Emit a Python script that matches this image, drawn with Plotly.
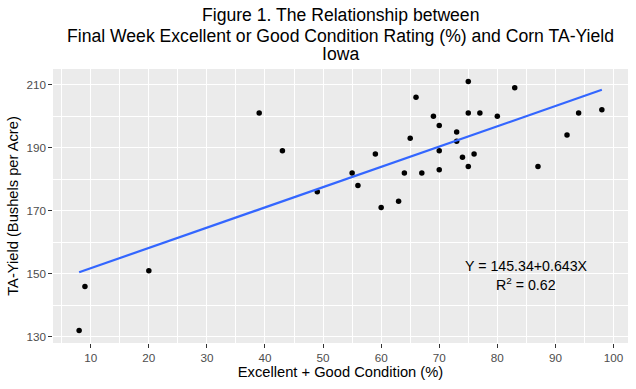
import plotly.graph_objects as go

# Data
condition_pct = [8, 9, 20, 39, 43, 49, 55, 56, 59, 60, 63, 64, 65, 66, 67, 69,
                 70, 70, 70, 73, 73, 74, 75, 75, 75, 76, 77, 80, 83, 87, 92, 94, 98]
ta_yield = [132, 146, 151, 201, 189, 176, 182, 178, 188, 171, 173, 182, 193, 206, 182, 200,
            197, 189, 183, 195, 192, 187, 211, 201, 184, 188, 201, 200, 209, 184, 194, 201, 202]

fit_intercept = 145.34
fit_slope = 0.643
r_squared = 0.62

title_lines = [
    "Figure 1. The Relationship between",
    "Final Week Excellent or Good Condition Rating (%) and Corn TA-Yield",
    "Iowa",
]

x_ticks = [10, 20, 30, 40, 50, 60, 70, 80, 90, 100]
y_ticks = [130, 150, 170, 190, 210]

FONT = "Liberation Sans, Arial, sans-serif"

fit_x = [min(condition_pct), max(condition_pct)]
fit_y = [fit_intercept + fit_slope * v for v in fit_x]

fig = go.Figure()
fig.add_trace(go.Scatter(
    x=condition_pct, y=ta_yield, mode="markers",
    marker=dict(color="black", size=5.5, line=dict(width=0)),
    showlegend=False, hoverinfo="x+y"))
fig.add_trace(go.Scatter(
    x=fit_x, y=fit_y, mode="lines",
    line=dict(color="#3366FF", width=2.2),
    showlegend=False, hoverinfo="skip"))

grid_common = dict(
    automargin=False,
    showgrid=True, gridcolor="white", gridwidth=1.1,
    zeroline=False, showline=False,
    ticks="outside", ticklen=3.7, tickwidth=1.07, tickcolor="#333333",
    tickfont=dict(family=FONT, size=11.7, color="#4D4D4D"),
)

fig.update_xaxes(
    range=[3.5, 102.5], tickvals=x_ticks,
    minor=dict(dtick=5, tick0=5, showgrid=True, gridcolor="white", gridwidth=0.7, ticks=""),
    title=dict(text="Excellent + Good Condition (%)",
               font=dict(family=FONT, size=14.7, color="black"), standoff=3),
    **grid_common)
fig.update_yaxes(
    range=[128.05, 214.95], tickvals=y_ticks,
    minor=dict(dtick=10, tick0=130, showgrid=True, gridcolor="white", gridwidth=0.7, ticks=""),
    title=dict(text="TA-Yield (Bushels per Acre)",
               font=dict(family=FONT, size=14.7, color="black"), standoff=4),
    **grid_common)

annotations = []
title_y = [1.1955, 1.12, 1.055]
for txt, yy in zip(title_lines, title_y):
    annotations.append(dict(
        text=txt, x=0.5, y=yy, xref="paper", yref="paper",
        xanchor="center", yanchor="middle", showarrow=False,
        font=dict(family=FONT, size=17.6, color="black")))

annotations.append(dict(
    text=f"Y = {fit_intercept}+{fit_slope}X", x=85, y=152.4, xref="x", yref="y",
    xanchor="center", yanchor="middle", showarrow=False,
    font=dict(family=FONT, size=14.2, color="black")))
annotations.append(dict(
    text=f"R<sup>2</sup> = {r_squared}", x=85, y=146.9, xref="x", yref="y",
    xanchor="center", yanchor="middle", showarrow=False,
    font=dict(family=FONT, size=14.2, color="black")))

fig.update_layout(
    width=636, height=389,
    margin=dict(l=53, r=8.3, t=69, b=46.3),
    paper_bgcolor="white", plot_bgcolor="#EBEBEB",
    font=dict(family=FONT),
    annotations=annotations,
)

fig.write_html("out.html", config={"displayModeBar": False},
               post_script="document.body.style.margin='0';")
